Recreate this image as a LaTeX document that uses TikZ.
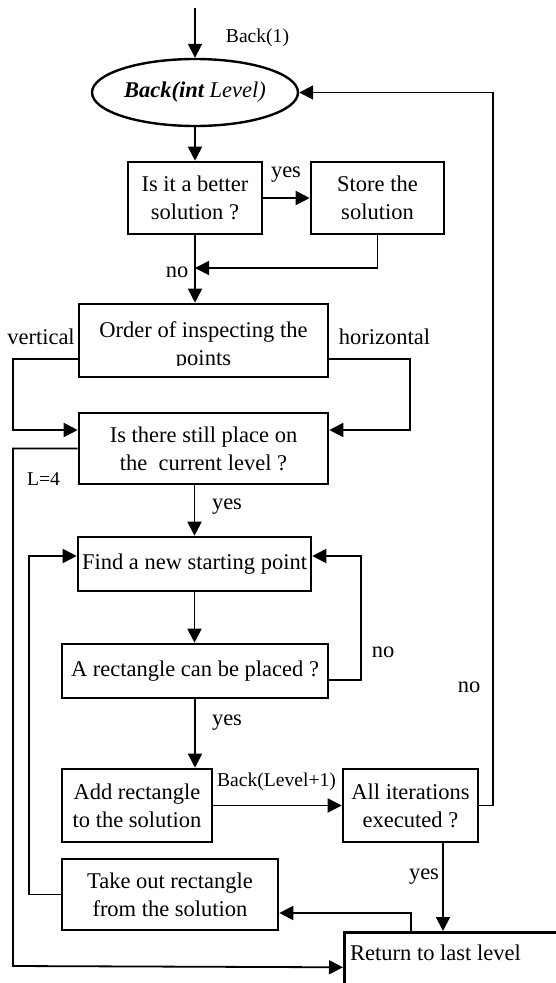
\documentclass[tikz,border=0pt]{standalone}
\usepackage{fontspec}
\setmainfont{Liberation Serif}
\usetikzlibrary{arrows.meta,shapes.geometric}
\begin{document}
\begin{tikzpicture}[x=1pt,y=-1pt,
  box/.style={draw,line width=2.6pt,rectangle,inner sep=0pt,align=center,font=\fontsize{22.5}{28}\selectfont},
  arr/.style={line width=1.8pt,-{Triangle[length=14pt,width=14pt]}},
  lbl/.style={font=\fontsize{22.5}{28}\selectfont,inner sep=0pt},
  slbl/.style={font=\fontsize{19.6}{24}\selectfont,inner sep=0pt}]
\useasboundingbox (0,0) rectangle (556,983);
% nodes
\node[draw,ellipse,line width=2.4pt,minimum width=206pt,minimum height=67pt,inner sep=0pt,font=\fontsize{22.5}{28}\selectfont] (ell) at (195,92.5) {{\bfseries\itshape Back(int} {\itshape Level)}};
\node[box,minimum width=134pt,minimum height=72pt] (b1) at (195,198) {Is it a better\\solution ?};
\node[box,minimum width=133pt,minimum height=72pt] (store) at (377.5,198) {Store the\\solution};
\node[box,minimum width=249pt,minimum height=73pt] (order) at (203.5,340.5) {};
\node[lbl,align=center] (ordertxt) at (203.5,346) {Order of inspecting the\\points};
\fill[white] (82,366) rectangle (325,374.5);
\node[box,minimum width=249pt,minimum height=71pt] (isthere) at (203.5,448.5) {Is there still place on\\the\ \ current level ?};
\node[box,minimum width=233pt,minimum height=54pt] (find) at (194.5,564) {Find a new starting point};
\node[box,minimum width=266pt,minimum height=54pt] (rect) at (195,671) {A rectangle can be placed ?};
\node[box,minimum width=150pt,minimum height=73pt] (add) at (137,805.5) {Add rectangle\\to the solution};
\node[box,minimum width=135pt,minimum height=73pt] (all) at (410.5,805.5) {All iterations\\executed ?};
\node[box,minimum width=216pt,minimum height=71pt] (take) at (170,894.5) {Take out rectangle\\from the solution};
\node[box,anchor=north west,minimum width=260pt,minimum height=80pt] (ret) at (343,931) {};
\node[lbl,anchor=west] (rettxt) at (350,953) {Return to last level};
% labels
\node[slbl] (l1) at (257.5,38) {Back(1)};
\node[lbl] (l2) at (286,175) {yes};
\node[lbl] (l3) at (177,272) {no};
\node[lbl] (l4) at (41,337) {vertical};
\node[lbl] (l5) at (384.5,337) {horizontal};
\node[slbl] (l6) at (43.5,479) {L=4};
\node[lbl] (l7) at (227,507) {yes};
\node[lbl] (l8) at (383,652) {no};
\node[lbl] (l9) at (227,723) {yes};
\node[slbl] (l10) at (276.5,782) {Back(Level+1)};
\node[lbl] (l11) at (469,687) {no};
\node[lbl] (l12) at (424,877) {yes};
% connectors
\coordinate (top) at (195,8);
\draw[arr] (top) -- (ell.north);
\draw[arr] (ell.south) -- (b1.north);
\draw[arr] (b1.east) -- (store.west);
\coordinate (j1) at (195,268);
\draw[arr] (store.south) |- (j1);
\draw[arr] (b1.south) -- (b1.south |- order.north);
\draw[arr] ([yshift=-18.5pt]order.west) -- (13,359) -- (13,430) -- ([yshift=18.5pt]isthere.west);
\draw[arr] ([yshift=-18.5pt]order.east) -- (410,359) -- (410,430) -- ([yshift=18.5pt]isthere.east);
\draw[arr] (isthere.west) -- (13,448.5) -- (13,966) -- ([yshift=5pt]ret.west);
\draw[arr] (find.north |- isthere.south) -- (find.north);
\draw[arr] (find.south) -- (find.south |- rect.north);
\draw[arr] ([yshift=-9pt]rect.east) -- (361,680) -- (361,556) -- ([yshift=8pt]find.east);
\draw[arr] (rect.south) -- (rect.south |- add.north);
\draw[arr] (add.east) -- (all.west);
\draw[arr] (all.east) -- (493,805.5) -- (493,92.5) -- (ell.east);
\draw[arr] ([xshift=32.5pt]all.south) -- ([xshift=32.5pt]all.south |- ret.north);
\draw[arr] ([xshift=68pt]ret.north west) -- (411,913) -- ([yshift=-18.5pt]take.east);
\draw[arr] (take.west) -- (29,894.5) -- (29,556) -- ([yshift=8pt]find.west);
\end{tikzpicture}
\end{document}
